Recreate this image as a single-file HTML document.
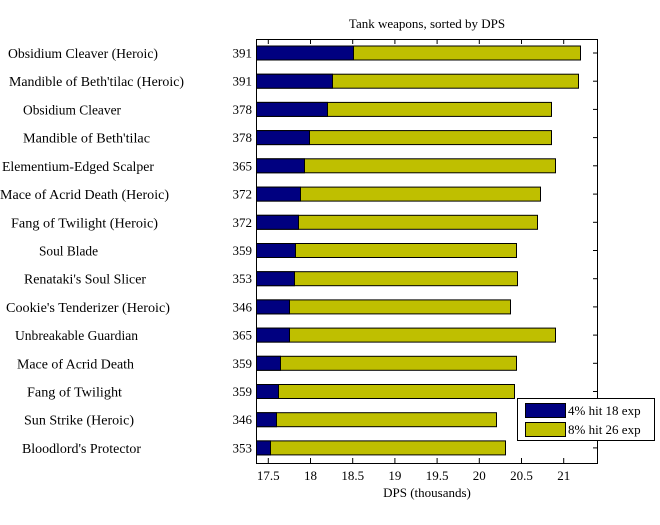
<!DOCTYPE html>
<html><head><style>body{margin:0;background:#fff}</style></head><body>
<svg width="660" height="520" xmlns="http://www.w3.org/2000/svg" font-family="Liberation Serif, serif" font-size="13">
<rect width="660" height="520" fill="#fff"/>
<text x="427" y="28" text-anchor="middle">Tank weapons, sorted by DPS</text>
<g stroke="#000" stroke-width="1">
<rect x="256.5" y="46" width="324" height="14" fill="#bfbf00"/><rect x="256.5" y="46" width="97" height="14" fill="#000080"/>
<rect x="256.5" y="74.2" width="322" height="14" fill="#bfbf00"/><rect x="256.5" y="74.2" width="76" height="14" fill="#000080"/>
<rect x="256.5" y="102.4" width="295" height="14" fill="#bfbf00"/><rect x="256.5" y="102.4" width="71" height="14" fill="#000080"/>
<rect x="256.5" y="130.6" width="295" height="14" fill="#bfbf00"/><rect x="256.5" y="130.6" width="53" height="14" fill="#000080"/>
<rect x="256.5" y="158.8" width="299" height="14" fill="#bfbf00"/><rect x="256.5" y="158.8" width="48" height="14" fill="#000080"/>
<rect x="256.5" y="187.1" width="284" height="14" fill="#bfbf00"/><rect x="256.5" y="187.1" width="44" height="14" fill="#000080"/>
<rect x="256.5" y="215.3" width="281" height="14" fill="#bfbf00"/><rect x="256.5" y="215.3" width="42" height="14" fill="#000080"/>
<rect x="256.5" y="243.5" width="260" height="14" fill="#bfbf00"/><rect x="256.5" y="243.5" width="39" height="14" fill="#000080"/>
<rect x="256.5" y="271.7" width="261" height="14" fill="#bfbf00"/><rect x="256.5" y="271.7" width="38" height="14" fill="#000080"/>
<rect x="256.5" y="299.9" width="254" height="14" fill="#bfbf00"/><rect x="256.5" y="299.9" width="33" height="14" fill="#000080"/>
<rect x="256.5" y="328.1" width="299" height="14" fill="#bfbf00"/><rect x="256.5" y="328.1" width="33" height="14" fill="#000080"/>
<rect x="256.5" y="356.3" width="260" height="14" fill="#bfbf00"/><rect x="256.5" y="356.3" width="24" height="14" fill="#000080"/>
<rect x="256.5" y="384.5" width="258" height="14" fill="#bfbf00"/><rect x="256.5" y="384.5" width="22" height="14" fill="#000080"/>
<rect x="256.5" y="412.7" width="240" height="14" fill="#bfbf00"/><rect x="256.5" y="412.7" width="20" height="14" fill="#000080"/>
<rect x="256.5" y="440.9" width="249" height="14" fill="#bfbf00"/><rect x="256.5" y="440.9" width="14" height="14" fill="#000080"/>
</g>
<rect x="256.5" y="39.5" width="341" height="424" fill="none" stroke="#000"/>
<g stroke="#000">
<line x1="593" y1="53" x2="598" y2="53"/><line x1="593" y1="81.2" x2="598" y2="81.2"/><line x1="593" y1="109.4" x2="598" y2="109.4"/><line x1="593" y1="137.6" x2="598" y2="137.6"/><line x1="593" y1="165.8" x2="598" y2="165.8"/><line x1="593" y1="194.1" x2="598" y2="194.1"/><line x1="593" y1="222.3" x2="598" y2="222.3"/><line x1="593" y1="250.5" x2="598" y2="250.5"/><line x1="593" y1="278.7" x2="598" y2="278.7"/><line x1="593" y1="306.9" x2="598" y2="306.9"/><line x1="593" y1="335.1" x2="598" y2="335.1"/><line x1="593" y1="363.3" x2="598" y2="363.3"/><line x1="593" y1="391.5" x2="598" y2="391.5"/><line x1="593" y1="419.7" x2="598" y2="419.7"/><line x1="593" y1="447.9" x2="598" y2="447.9"/>
<line x1="268.3" y1="463" x2="268.3" y2="458"/><line x1="310.5" y1="463" x2="310.5" y2="458"/><line x1="352.7" y1="463" x2="352.7" y2="458"/><line x1="394.9" y1="463" x2="394.9" y2="458"/><line x1="437.1" y1="463" x2="437.1" y2="458"/><line x1="479.3" y1="463" x2="479.3" y2="458"/><line x1="521.5" y1="463" x2="521.5" y2="458"/><line x1="563.7" y1="463" x2="563.7" y2="458"/>
<line x1="268.3" y1="39" x2="268.3" y2="44"/><line x1="310.5" y1="39" x2="310.5" y2="44"/><line x1="352.7" y1="39" x2="352.7" y2="44"/><line x1="394.9" y1="39" x2="394.9" y2="44"/><line x1="437.1" y1="39" x2="437.1" y2="44"/><line x1="479.3" y1="39" x2="479.3" y2="44"/><line x1="521.5" y1="39" x2="521.5" y2="44"/><line x1="563.7" y1="39" x2="563.7" y2="44"/>
</g>
<g font-size="13.5">
<text x="8" y="58" textLength="150" lengthAdjust="spacingAndGlyphs">Obsidium Cleaver (Heroic)</text>
<text x="9" y="86.2" textLength="175" lengthAdjust="spacingAndGlyphs">Mandible of Beth'tilac (Heroic)</text>
<text x="23" y="114.4" textLength="98" lengthAdjust="spacingAndGlyphs">Obsidium Cleaver</text>
<text x="23" y="142.6" textLength="127" lengthAdjust="spacingAndGlyphs">Mandible of Beth'tilac</text>
<text x="2" y="170.8" textLength="152" lengthAdjust="spacingAndGlyphs">Elementium-Edged Scalper</text>
<text x="0" y="199.1" textLength="169" lengthAdjust="spacingAndGlyphs">Mace of Acrid Death (Heroic)</text>
<text x="11" y="227.3" textLength="147" lengthAdjust="spacingAndGlyphs">Fang of Twilight (Heroic)</text>
<text x="39" y="255.5" textLength="59" lengthAdjust="spacingAndGlyphs">Soul Blade</text>
<text x="24" y="283.7" textLength="122" lengthAdjust="spacingAndGlyphs">Renataki's Soul Slicer</text>
<text x="6" y="311.9" textLength="164" lengthAdjust="spacingAndGlyphs">Cookie's Tenderizer (Heroic)</text>
<text x="15" y="340.1" textLength="123" lengthAdjust="spacingAndGlyphs">Unbreakable Guardian</text>
<text x="17" y="368.3" textLength="117" lengthAdjust="spacingAndGlyphs">Mace of Acrid Death</text>
<text x="27" y="396.5" textLength="95" lengthAdjust="spacingAndGlyphs">Fang of Twilight</text>
<text x="24" y="424.7" textLength="110" lengthAdjust="spacingAndGlyphs">Sun Strike (Heroic)</text>
<text x="22" y="452.9" textLength="119" lengthAdjust="spacingAndGlyphs">Bloodlord's Protector</text>
</g>
<g text-anchor="end">
<text x="252" y="57.5">391</text><text x="252" y="85.7">391</text><text x="252" y="113.9">378</text><text x="252" y="142.1">378</text><text x="252" y="170.3">365</text><text x="252" y="198.6">372</text><text x="252" y="226.8">372</text><text x="252" y="255">359</text><text x="252" y="283.2">353</text><text x="252" y="311.4">346</text><text x="252" y="339.6">365</text><text x="252" y="367.8">359</text><text x="252" y="396">359</text><text x="252" y="424.2">346</text><text x="252" y="452.4">353</text>
</g>
<g text-anchor="middle">
<text x="268.3" y="480">17.5</text><text x="310.5" y="480">18</text><text x="352.7" y="480">18.5</text><text x="394.9" y="480">19</text><text x="437.1" y="480">19.5</text><text x="479.3" y="480">20</text><text x="521.5" y="480">20.5</text><text x="563.7" y="480">21</text>
</g>
<text x="427" y="497" text-anchor="middle">DPS (thousands)</text>
<rect x="517.5" y="398.5" width="137" height="42" fill="#fff" stroke="#000"/>
<rect x="525.5" y="403.5" width="40" height="14" fill="#000080" stroke="#000"/>
<rect x="525.5" y="422.5" width="40" height="14" fill="#bfbf00" stroke="#000"/>
<text x="568" y="415">4% hit 18 exp</text>
<text x="568" y="434">8% hit 26 exp</text>
</svg>
</body></html>
